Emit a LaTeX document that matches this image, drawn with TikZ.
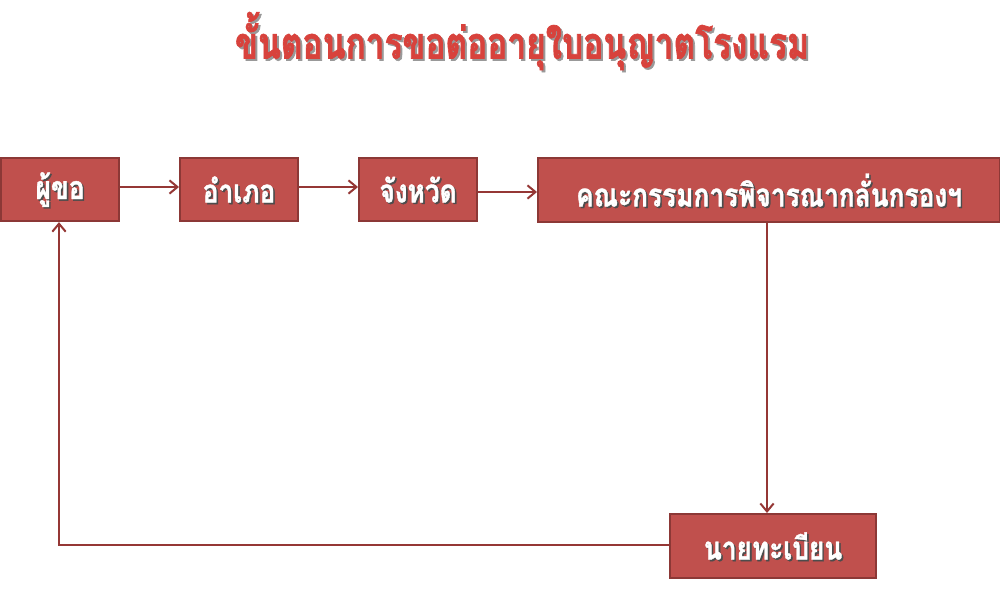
\documentclass[tikz,border=0pt]{standalone}
\usepackage{fontspec}
\newfontfamily\thai[Script=Thai]{Loma}
\newfontfamily\thaibox[Script=Thai,FakeStretch=0.82,FakeBold=1.2]{Loma}
\newfontfamily\thaititle[Script=Thai,FakeStretch=0.76,FakeBold=1.5]{Loma}
\usetikzlibrary{arrows.meta}
\definecolor{boxfill}{HTML}{C0504D}
\definecolor{boxline}{HTML}{8C3836}
\definecolor{arrowc}{HTML}{953735}
\definecolor{titlered}{HTML}{D8423C}
\tikzset{
  stepbox/.style={draw=boxline, line width=1.6pt, fill=boxfill, anchor=north west, inner sep=0pt},
  conn/.style={draw=arrowc, line width=1.5pt, -{Straight Barb[length=6pt,width=10pt,line width=1.5pt]}},
  boxtext/.style={text=white, font=\thaibox\bfseries\fontsize{24}{28}\selectfont},
  shadowtext/.style={text=black!70, font=\thaibox\bfseries\fontsize{24}{28}\selectfont},
  titletext/.style={font=\thaititle\bfseries\fontsize{33}{38}\selectfont},
}
\newcommand{\boxlabel}[2]{%
  \node[shadowtext] at ([shift={(1.2pt,-1.2pt)}]#1.center) {#2};
  \node[boxtext] at (#1.center) {#2};}
\begin{document}
\begin{tikzpicture}[x=0.75pt,y=-0.75pt]
\useasboundingbox (0,0) rectangle (1000,599);
% title
\node[titletext, text=black!40] (titleS) at (524,43) {ขั้นตอนการขอต่ออายุใบอนุญาตโรงแรม};
\node[titletext, text=titlered] (title) at (522,41) {ขั้นตอนการขอต่ออายุใบอนุญาตโรงแรม};
% boxes
\node[stepbox, minimum width=118*0.75pt, minimum height=63*0.75pt] (b1) at (0,157) {};
\node[stepbox, minimum width=118*0.75pt, minimum height=63*0.75pt] (b2) at (179,157) {};
\node[stepbox, minimum width=118*0.75pt, minimum height=63*0.75pt] (b3) at (358,157) {};
\node[stepbox, minimum width=462*0.75pt, minimum height=64*0.75pt] (b4) at (537,157) {};
\node[stepbox, minimum width=206*0.75pt, minimum height=64*0.75pt] (b5) at (669,513) {};
\boxlabel{b1}{ผู้ขอ}
\boxlabel{b2}{อำเภอ}
\boxlabel{b3}{จังหวัด}
\boxlabel{b4}{คณะกรรมการพิจารณากลั่นกรองฯ}
\boxlabel{b5}{นายทะเบียน}
% connectors
\draw[conn] (b1.east |- 0,187) -- (b2.west |- 0,187);
\draw[conn] (b2.east |- 0,187) -- (b3.west |- 0,187);
\draw[conn] (b3.east |- 0,192) -- (b4.west |- 0,192);
\draw[conn] (b4.south -| 767,0) -- (b5.north -| 767,0);
\coordinate (corner) at (59,545);
\draw[conn] (b5.west |- corner) -- (corner) -- (b1.south -| corner);
\end{tikzpicture}
\end{document}
